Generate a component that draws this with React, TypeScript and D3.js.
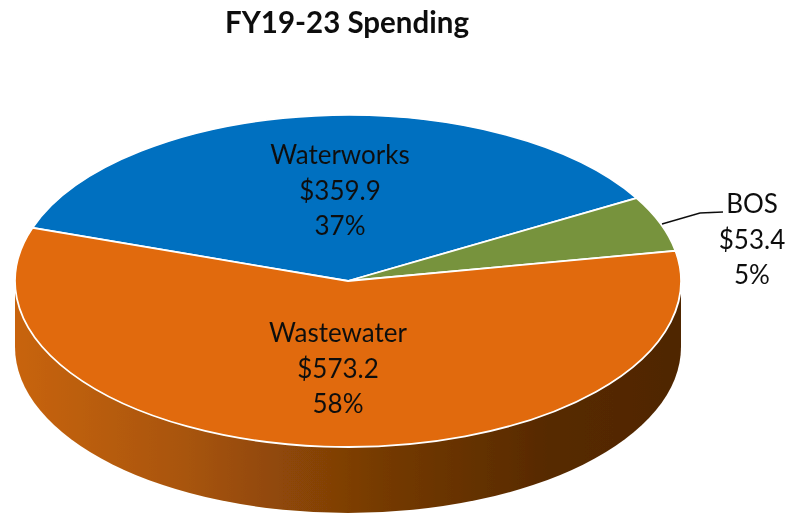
import React, { useEffect, useRef } from 'react';
import * as d3 from 'd3';

const categories = ['Waterworks', 'BOS', 'Wastewater'];
const amounts = [359.9, 53.4, 573.2];
const amountLabels = ['$359.9', '$53.4', '$573.2'];
const percentLabels = ['37%', '5%', '58%'];
const colors = ['#0070c0', '#77933c', '#e16a07'];
const title = 'FY19-23 Spending';

const width = 785;
const height = 515;
const cx = 348;
const cy = 281;
const rx = 333;
const ry = 166;
const depth = 66;
const startAngle = (-71.3 * Math.PI) / 180;
const fontFamily = 'Lato, "Open Sans", sans-serif';

// where each label block sits, first line centre
const labelPos = [
    { x: 340, y: 155 },
    { x: 752, y: 204 },
    { x: 338, y: 333 },
];
const lineGap = 35.5;

function App() {
    const svgRef = useRef<SVGSVGElement>(null);

    useEffect(() => {
        const svg = d3.select(svgRef.current);
        svg.selectAll('*').remove();

        const defs = svg.append('defs');
        const grad = defs.append('linearGradient').attr('id', 'wall').attr('x1', 0).attr('x2', 1).attr('y1', 0).attr('y2', 0);
        [
            [0, '#c8640a'],
            [0.25, '#a95509'],
            [0.55, '#753a05'],
            [0.8, '#572a02'],
            [1, '#4f2600'],
        ].forEach(([o, c]) => grad.append('stop').attr('offset', o as number).attr('stop-color', c as string));

        // the reference is a slightly soft screenshot
        defs.append('filter')
            .attr('id', 'soft')
            .attr('filterUnits', 'userSpaceOnUse')
            .attr('x', 0)
            .attr('y', 0)
            .attr('width', width)
            .attr('height', height)
            .append('feGaussianBlur')
            .attr('stdDeviation', 0.5);

        const root = svg.append('g').attr('filter', 'url(#soft)');

        // side wall of the disc
        const wall = `M${cx - rx},${cy} L${cx - rx},${cy + depth} A${rx},${ry} 0 0 0 ${cx + rx},${cy + depth} L${cx + rx},${cy} Z`;
        root.append('path').attr('d', wall).attr('fill', 'url(#wall)');

        const pie = d3.pie<number>()
            .sort(null)
            .startAngle(startAngle)
            .endAngle(startAngle + 2 * Math.PI);
        const arc = d3.arc<d3.PieArcDatum<number>>().innerRadius(0).outerRadius(rx);

        root.append('g')
            .attr('transform', `translate(${cx},${cy}) scale(1,${ry / rx})`)
            .selectAll('path')
            .data(pie(amounts))
            .join('path')
            .attr('d', arc)
            .attr('fill', (d, i) => colors[i])
            .attr('stroke', '#ffffff')
            .attr('stroke-width', 1.8)
            .attr('vector-effect', 'non-scaling-stroke');

        // leader for the small slice
        root.append('path')
            .attr('d', d3.line()([[662, 224], [700, 213], [723, 212]]))
            .attr('fill', 'none')
            .attr('stroke', '#111')
            .attr('stroke-width', 1.5);

        root.append('text')
            .attr('x', 347)
            .attr('y', 33)
            .attr('text-anchor', 'middle')
            .attr('font-family', fontFamily)
            .attr('font-size', 29.5)
            .attr('font-weight', 700)
            .attr('fill', '#111')
            .text(title);

        const labels = root.append('g')
            .attr('font-family', fontFamily)
            .attr('font-size', 26)
            .attr('fill', '#111')
            .attr('text-anchor', 'middle');

        categories.forEach((name, i) => {
            [name, amountLabels[i], percentLabels[i]].forEach((line, j) => {
                labels.append('text')
                    .attr('x', labelPos[i].x)
                    .attr('y', labelPos[i].y + j * lineGap)
                    .attr('dy', '0.35em')
                    .text(line);
            });
        });
    }, []);

    return <svg ref={svgRef} width={width} height={height} style={{ position: 'absolute', left: 0, top: 0 }} />;
}

export default App;
